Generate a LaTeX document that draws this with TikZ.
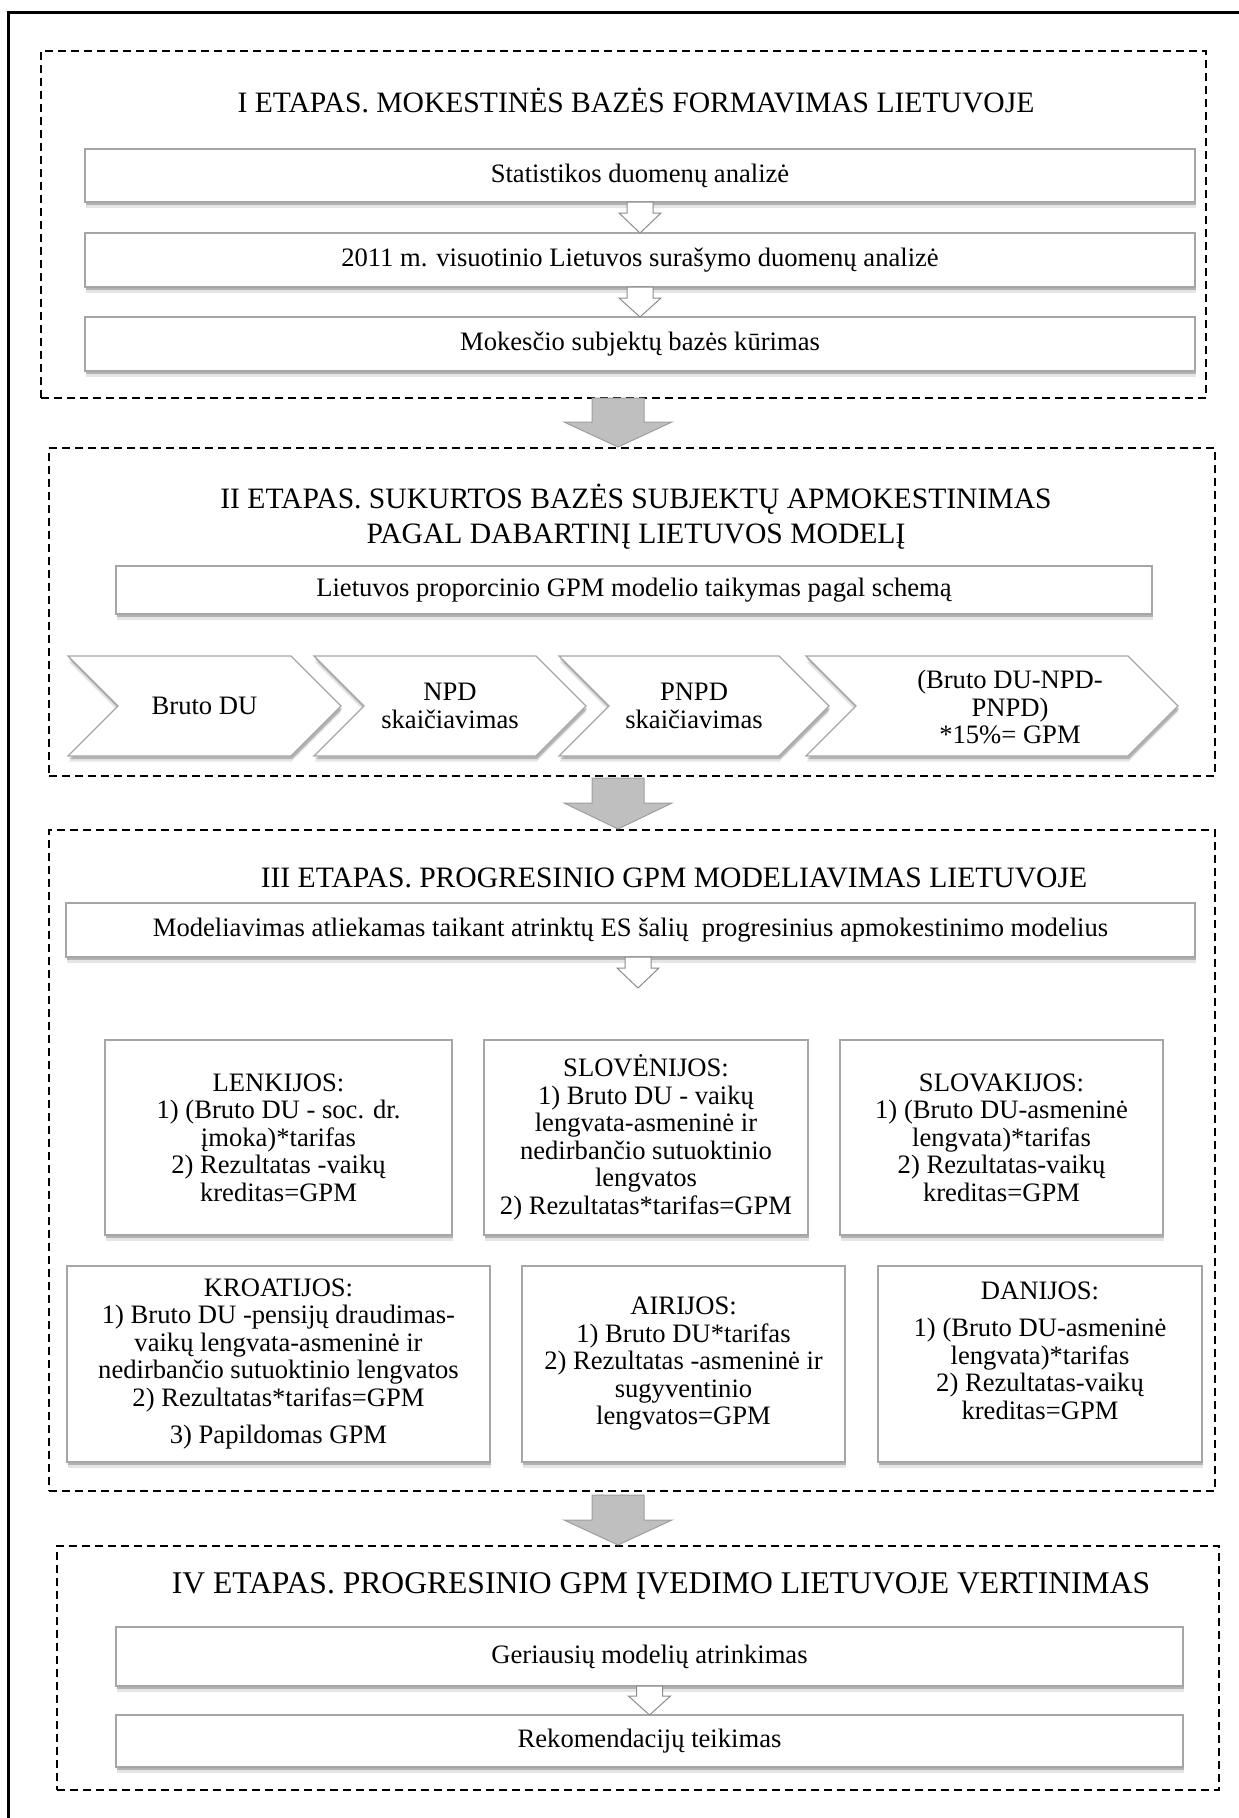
\documentclass[tikz,border=0pt]{standalone}
\usepackage{fontspec}
\setmainfont{Liberation Serif}
\usetikzlibrary{shapes.symbols,shadows,calc}
\newcommand\DArrow[6]{\draw[#1] (#2) ++(-#3,0) -- ++(0,#4) -- ++(#3-#5,0) -- ++(#5,#6) -- ++(#5,-#6) -- ++(#3-#5,0) -- ++(0,-#4) -- cycle;}
\tikzset{
  dashbox/.style={draw=black, line width=2pt, dash pattern=on 8pt off 5pt, inner sep=0pt, outer sep=0pt},
  shad/.style={drop shadow={shadow xshift=1pt, shadow yshift=-3pt, opacity=.22, fill=black},
               drop shadow={shadow xshift=0.5pt, shadow yshift=-5.5pt, opacity=.10, fill=black}},
  sbox/.style={draw=black!35, line width=1.2pt, fill=white, inner sep=0pt, outer sep=0pt, shad,
               font=\fontsize{26.6pt}{27.5pt}\selectfont, align=center},
  chev/.style={signal, signal from=west, signal to=east, signal pointer angle=90,
               draw=black!35, line width=1.2pt, fill=white, shad, inner sep=0pt, outer sep=0pt,
               minimum height=100pt, font=\fontsize{26.6pt}{27.5pt}\selectfont, align=center},
  txt/.style={font=\fontsize{26.6pt}{27.5pt}\selectfont, align=center, inner sep=0pt},
  title/.style={font=\fontsize{29.6pt}{35pt}\selectfont, inner sep=0pt, align=center},
  bigtitle/.style={font=\fontsize{31.6pt}{36pt}\selectfont, inner sep=0pt, align=center},
  warrow/.style={fill=white, draw=black!45, line width=1pt},
  garrow/.style={fill=black!25, draw=black!38, line width=1pt},
}
\begin{document}
\begin{tikzpicture}[x=1pt,y=-1pt]
\useasboundingbox (0,0) rectangle (1239,1818);
\begin{scope}
\clip (0,0) rectangle (1239,1818);
\draw[line width=3pt] (8,12) rectangle (1260,1840);
\end{scope}

% dashed stage frames
\node[dashbox, minimum width=1165pt, minimum height=347pt] (B1) at (623.5,224.5) {};
\node[dashbox, minimum width=1166pt, minimum height=328pt] (B2) at (632,612) {};
\node[dashbox, minimum width=1166pt, minimum height=661pt] (B3) at (632,1160.5) {};
\node[dashbox, minimum width=1162pt, minimum height=244pt] (B4) at (638,1668) {};

% stage I
\node[title, anchor=base] (T1) at (636,112.8) {I ETAPAS. MOKESTINĖS BAZĖS FORMAVIMAS LIETUVOJE};
\node[sbox, minimum width=1110pt, minimum height=53pt] (S1) at (640,175.5) {Statistikos duomenų analizė};
\node[sbox, minimum width=1110pt, minimum height=54pt] (S2) at (640,260) {2011 m. visuotinio Lietuvos surašymo duomenų analizė};
\node[sbox, minimum width=1110pt, minimum height=54pt] (S3) at (640,344) {Mokesčio subjektų bazės kūrimas};
\DArrow{warrow}{S1.south}{13}{11}{21}{20}
\DArrow{warrow}{S2.south}{13}{11}{21}{19}

% stage II
\node[title] (T2) at (636,517) {II ETAPAS. SUKURTOS BAZĖS SUBJEKTŲ APMOKESTINIMAS\\PAGAL DABARTINĮ LIETUVOS MODELĮ};
\node[sbox, minimum width=1036pt, minimum height=48pt] (L1) at (634,590) {Lietuvos proporcinio GPM modelio taikymas pagal schemą};
\node[chev, minimum width=273pt] (C1) at (204.5,706) {Bruto DU};
\node[chev, minimum width=272pt] (C2) at (450,706) {NPD\\skaičiavimas};
\node[chev, minimum width=270pt] (C3) at (694,706) {PNPD\\skaičiavimas};
\node[chev, minimum width=372pt] (C4) at (992,706) {};
\node[txt] (C4t) at (1010,707) {(Bruto DU-NPD-\\PNPD)\\*15\%= GPM};

% stage III
\node[title, anchor=base] (T3) at (674,887.8) {III ETAPAS. PROGRESINIO GPM MODELIAVIMAS LIETUVOJE};
\node[sbox, minimum width=1129pt, minimum height=54pt] (M1) at (630.5,930) {Modeliavimas atliekamas taikant atrinktų ES šalių\ \ progresinius apmokestinimo modelius};
\DArrow{warrow}{[xshift=7.5pt]M1.south}{13}{11}{21}{20}

\node[sbox, minimum width=347pt, minimum height=195pt] (LT) at (278.5,1137.5) {LENKIJOS:\\1) (Bruto DU - soc. dr.\\įmoka)*tarifas\\2) Rezultatas -vaikų\\kreditas=GPM};
\node[sbox, minimum width=324pt, minimum height=195pt] (SI) at (646,1137.5) {SLOVĖNIJOS:\\1) Bruto DU - vaikų\\lengvata-asmeninė ir\\nedirbančio sutuoktinio\\lengvatos\\2) Rezultatas*tarifas=GPM};
\node[sbox, minimum width=323pt, minimum height=195pt] (SK) at (1001.5,1137.5) {SLOVAKIJOS:\\1) (Bruto DU-asmeninė\\lengvata)*tarifas\\2) Rezultatas-vaikų\\kreditas=GPM};

\node[sbox, minimum width=423pt, minimum height=196pt] (HR) at (278.5,1364) {KROATIJOS:\\1) Bruto DU -pensijų draudimas-\\vaikų lengvata-asmeninė ir\\nedirbančio sutuoktinio lengvatos\\2) Rezultatas*tarifas=GPM\\[10pt]3) Papildomas GPM};
\node[sbox, minimum width=323pt, minimum height=196pt] (IE) at (683.5,1364) {AIRIJOS:\\1) Bruto DU*tarifas\\2) Rezultatas -asmeninė ir\\sugyventinio\\lengvatos=GPM};
\node[sbox, minimum width=324pt, minimum height=196pt] (DK) at (1040,1364) {};
\node[txt] (DKt) at (1040,1350.5) {DANIJOS:\\[10pt]1) (Bruto DU-asmeninė\\lengvata)*tarifas\\2) Rezultatas-vaikų\\kreditas=GPM};

% stage IV
\node[bigtitle, anchor=base] (T4) at (661,1593.4) {IV ETAPAS. PROGRESINIO GPM ĮVEDIMO LIETUVOJE VERTINIMAS};
\node[sbox, minimum width=1067pt, minimum height=59pt] (G1) at (649.5,1656.5) {Geriausių modelių atrinkimas};
\node[sbox, minimum width=1067pt, minimum height=52pt] (R1) at (649.5,1741) {Rekomendacijų teikimas};
\DArrow{warrow}{G1.south}{13}{10}{21}{19}

% grey arrows between stages
\coordinate (g1) at ($(B1.south)+(-5.5,0)$);
\coordinate (g2) at ($(B2.south)+(-14,2)$);
\coordinate (g3) at ($(B3.south)+(-14,4)$);
\DArrow{garrow}{g1}{26}{24}{54}{25}
\DArrow{garrow}{g2}{26}{25}{54}{26}
\DArrow{garrow}{g3}{26}{25}{54}{25}
\end{tikzpicture}
\end{document}
